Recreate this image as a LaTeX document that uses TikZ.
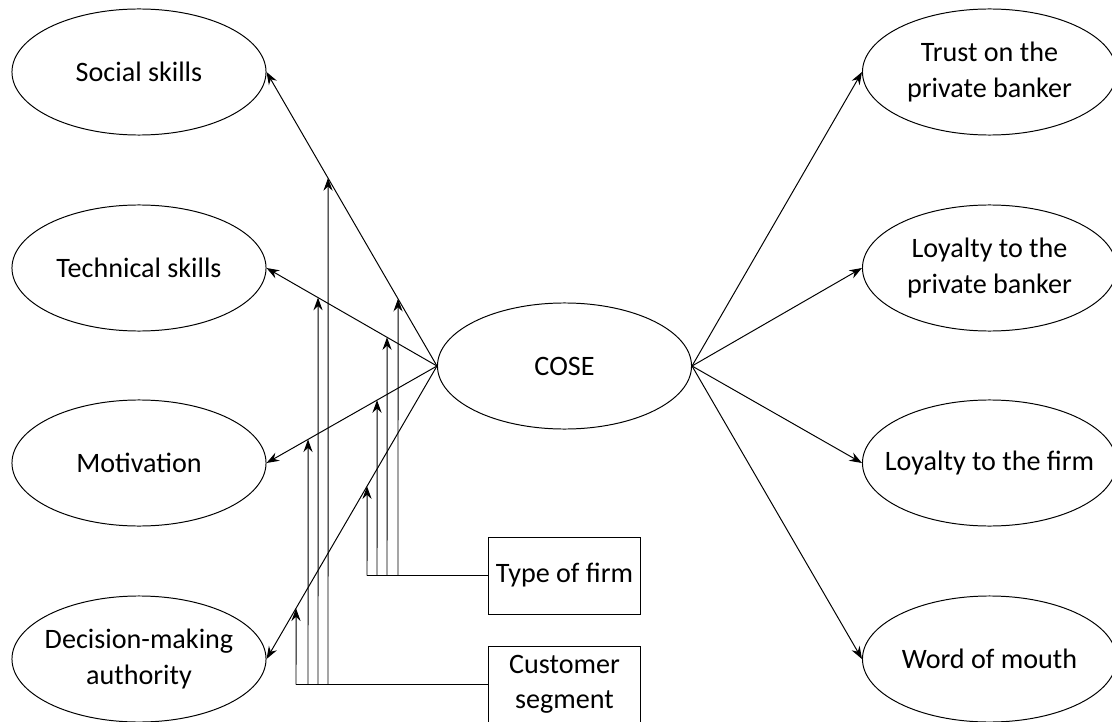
\documentclass[tikz,border=0pt]{standalone}
\usepackage{fontspec}
\setmainfont{Carlito}
\usetikzlibrary{arrows.meta,shapes.geometric}

\begin{document}
\begin{tikzpicture}[x=0.025cm, y=-0.025cm, line width=0.7pt,
  var/.style={draw, ellipse, minimum width=6.35cm, minimum height=3.15cm, inner xsep=-15pt, inner ysep=0pt, align=center, font=\fontsize{20}{25}\selectfont},
  ctrl/.style={draw, rectangle, minimum width=3.775cm, minimum height=1.925cm, inner sep=0pt, align=center, font=\fontsize{20}{25}\selectfont},
  arr/.style={-{Stealth[length=9pt,width=6.5pt,inset=3pt]}},
  foot/.style={line width=1.3pt}]
\useasboundingbox (0,0) rectangle (1112,722);

% outcome side
\node[var] (soc)   at (139,72)  {Social skills};
\node[var] (tech)  at (139,268) {Technical skills};
\node[var] (motiv) at (139,463) {Motivation};
\node[var] (dma)   at (139,659) {Decision-making\\authority};

\node[var] (cose)  at (564.5,366) {COSE};

\node[var] (trust) at (989.5,72)  {Trust on the\\private banker};
\node[var] (loyb)  at (989.5,268) {Loyalty to the\\private banker};
\node[var] (loyf)  at (989.5,463) {Loyalty to the firm};
\node[var] (wom)   at (989.5,659) {Word of mouth};

% moderators
\node[ctrl] (tof)  at (564.5,575.5) {Type of firm};
\node[ctrl] (cseg) at (564.5,684.5) {Customer\\segment};

\foreach \tgt in {soc,tech,motiv,dma}
  \draw[arr] (cose.west) -- (\tgt.east);
\foreach \tgt in {trust,loyb,loyf,wom}
  \draw[arr] (cose.east) -- (\tgt.west);

% type of firm
\foreach \x/\tgt [count=\i] in {367/dma,377/motiv,387/tech,398/soc} {
  \coordinate (tf\i) at (\x,575.5);
  \coordinate (tfu\i) at (\x,0);
  \draw[arr] (tf\i) -- (intersection of cose.west--\tgt.east and tf\i--tfu\i);
}
\draw[foot] (tof.west) -- (tf1);

% customer segment
\foreach \x/\tgt [count=\i] in {296/dma,308/motiv,318/tech,328/soc} {
  \coordinate (cs\i) at (\x,684.5);
  \coordinate (csu\i) at (\x,0);
  \draw[arr] (cs\i) -- (intersection of cose.west--\tgt.east and cs\i--csu\i);
}
\draw[foot] (cseg.west) -- (cs1);
\end{tikzpicture}
\end{document}
